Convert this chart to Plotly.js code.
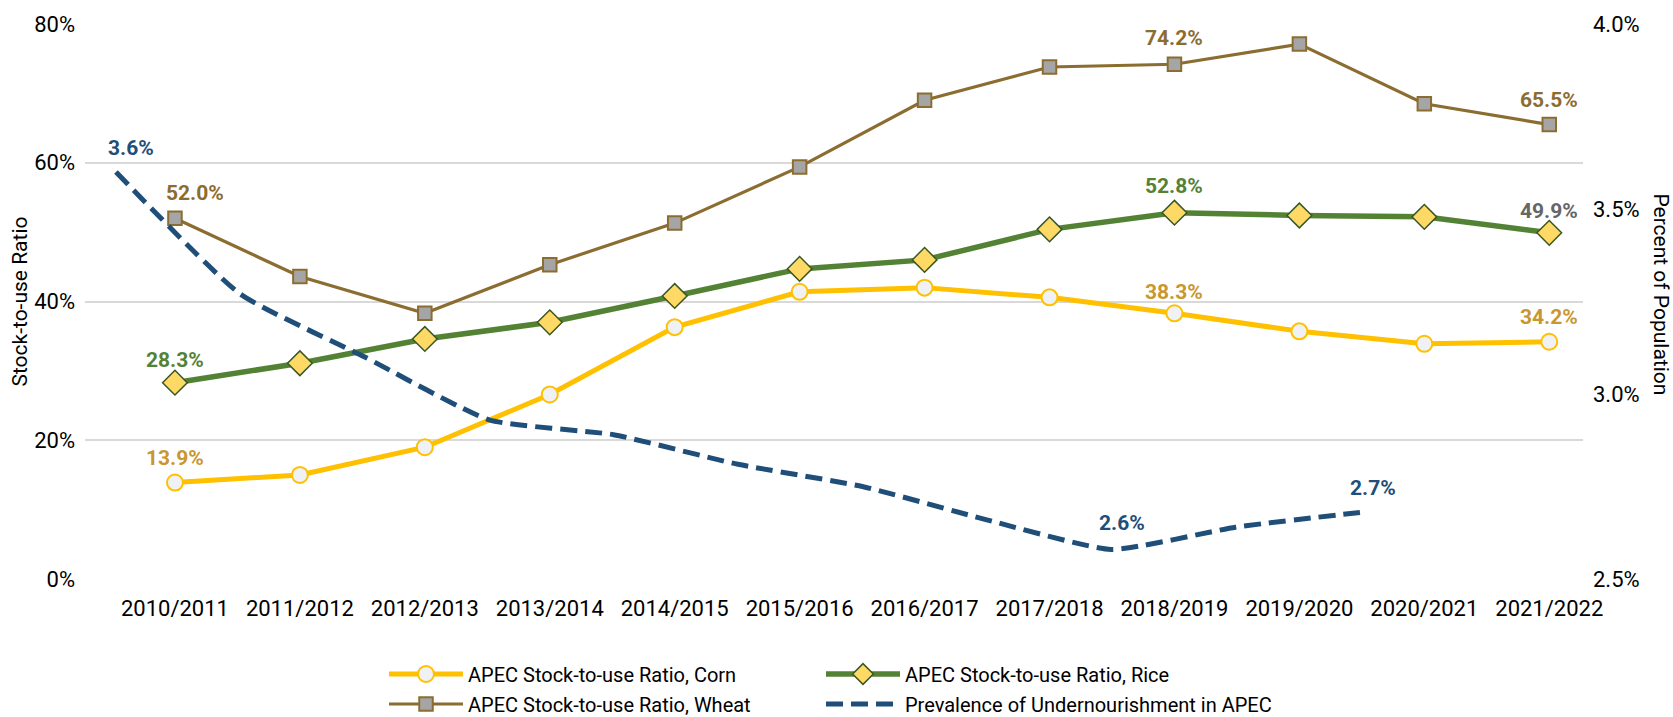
<!DOCTYPE html>
<html>
<head>
<meta charset="utf-8">
<script src="https://cdn.plot.ly/plotly-3.0.1.min.js"></script>
<style>
  html, body { margin: 0; padding: 0; background: #fff; }
  #chart { width: 1673px; height: 717px; }
</style>
</head>
<body>
<div id="chart"></div>
<script>
// ---- Data ----
const marketingYears = ['2010/2011','2011/2012','2012/2013','2013/2014','2014/2015','2015/2016',
                        '2016/2017','2017/2018','2018/2019','2019/2020','2020/2021','2021/2022'];
const cornRatio  = [13.9, 15.0, 19.0, 26.6, 36.3, 41.4, 42.0, 40.6, 38.3, 35.7, 33.9, 34.2];
const riceRatio  = [28.3, 31.1, 34.6, 37.0, 40.8, 44.7, 46.0, 50.4, 52.8, 52.4, 52.2, 49.9];
const wheatRatio = [52.0, 43.6, 38.3, 45.3, 51.3, 59.4, 69.0, 73.8, 74.2, 77.1, 68.5, 65.5];

const undernourishmentYears = [2010, 2011, 2012, 2013, 2014, 2015, 2016, 2017, 2018, 2019, 2020];
const undernourishmentPct   = [3.60, 3.27, 3.10, 2.93, 2.89, 2.81, 2.75, 2.66, 2.58, 2.64, 2.68];

// axis ticks
const leftTickVals  = [0, 20, 40, 60, 80];
const leftTickText  = ['0%', '20%', '40%', '60%', '80%'];
const rightTickVals = [2.5, 3.0, 3.5, 4.0];
const rightTickText = ['2.5%', '3.0%', '3.5%', '4.0%'];

// indices of points that carry a data label
const cornLabelIdx  = [0, 8, 11];
const riceLabelIdx  = [0, 8, 11];
const wheatLabelIdx = [0, 8, 11];
const undernourishmentLabelIdx = [0, 8, 10];

// ---- Styles ----
const FONT = 'Roboto, "Open Sans", Arial, sans-serif';
const cCorn = '#FFC000', cCornLbl = '#C9972F';
const cRice = '#548235', cRiceLbl = '#548235';
const cWheat = '#8C6D31', cWheatLbl = '#8C6D31';
const cUnder = '#1F4E79';

const traces = [
  {
    name: 'APEC Stock-to-use Ratio, Corn', legend: 'legend',
    x: marketingYears, y: cornRatio, type: 'scatter', mode: 'lines+markers',
    line: {color: cCorn, width: 5},
    marker: {symbol: 'circle', size: 16, color: '#EFF1F4', line: {color: cCorn, width: 2}},
    xaxis: 'x', yaxis: 'y'
  },
  {
    name: 'APEC Stock-to-use Ratio, Rice', legend: 'legend2',
    x: marketingYears, y: riceRatio, type: 'scatter', mode: 'lines+markers',
    line: {color: cRice, width: 5.5},
    marker: {symbol: 'diamond', size: 19, color: '#FFD966', line: {color: '#385723', width: 1.5}},
    xaxis: 'x', yaxis: 'y'
  },
  {
    name: 'APEC Stock-to-use Ratio, Wheat', legend: 'legend3',
    x: marketingYears, y: wheatRatio, type: 'scatter', mode: 'lines+markers',
    line: {color: cWheat, width: 3.2},
    marker: {symbol: 'square', size: 13.5, color: '#A5A5A5', line: {color: cWheat, width: 2}},
    xaxis: 'x', yaxis: 'y'
  },
  {
    name: 'Prevalence of Undernourishment in APEC', legend: 'legend4',
    x: undernourishmentYears, y: undernourishmentPct, type: 'scatter', mode: 'lines',
    line: {color: cUnder, width: 5, dash: '17px,8px', shape: 'spline', smoothing: 0.5},
    xaxis: 'x2', yaxis: 'y2'
  }
];

// ---- Data labels ----
const annotations = [];
function addLabels(xs, ys, idx, color, xref, yref, opts) {
  idx.forEach((i, k) => {
    const o = (opts && opts[k]) || {};
    annotations.push({
      x: xs[i], y: ys[i], xref: xref, yref: yref,
      text: ys[i].toFixed(1) + '%', showarrow: false,
      yshift: o.yshift !== undefined ? o.yshift : 25,
      xshift: o.xshift || 0,
      font: {family: FONT, size: 21, color: o.color || color, weight: 'bold'}
    });
  });
}
addLabels(marketingYears, cornRatio, cornLabelIdx, cCornLbl, 'x', 'y', [{}, {yshift: 21}, {}]);
addLabels(marketingYears, riceRatio, riceLabelIdx, cRiceLbl, 'x', 'y', [{yshift: 23}, {yshift: 27}, {color: '#666666', yshift: 22}]);
addLabels(marketingYears, wheatRatio, wheatLabelIdx, cWheatLbl, 'x', 'y', [{xshift: 20}, {yshift: 26}, {}]);
addLabels(undernourishmentYears, undernourishmentPct, undernourishmentLabelIdx, cUnder, 'x2', 'y2',
          [{xshift: 15, yshift: 24}, {xshift: 11, yshift: 26}, {xshift: 13, yshift: 24}]);

// axis titles
annotations.push({
  xref: 'paper', yref: 'paper', x: -0.044, y: 0.5, xanchor: 'center', yanchor: 'middle',
  text: 'Stock-to-use Ratio', textangle: -90, showarrow: false,
  font: {family: FONT, size: 21, color: '#000'}
});
annotations.push({
  xref: 'paper', yref: 'paper', x: 1.052, y: 0.513, xanchor: 'center', yanchor: 'middle',
  text: 'Percent of Population', textangle: 90, showarrow: false,
  font: {family: FONT, size: 21, color: '#000'}
});

function legendAt(xPx, yPx) {
  return {
    orientation: 'h', xref: 'paper', x: (xPx - 85) / 1498, xanchor: 'left',
    yref: 'container', y: (717 - yPx) / 717, yanchor: 'middle', itemwidth: 74,
    font: {family: FONT, size: 20, color: '#000'}, bgcolor: 'rgba(0,0,0,0)'
  };
}

const layout = {
  width: 1673, height: 717,
  margin: {l: 85, r: 90, t: 24, b: 138},
  paper_bgcolor: '#ffffff', plot_bgcolor: '#ffffff',
  font: {family: FONT, size: 20, color: '#000'},
  showlegend: true,
  legend:  legendAt(384, 674),
  legend2: legendAt(821, 674),
  legend3: legendAt(384, 704),
  legend4: legendAt(821, 704),
  xaxis: {
    type: 'category', range: [-0.72, 11.27], showgrid: false, zeroline: false,
    showline: false, ticks: '', tickfont: {family: FONT, size: 22, color: '#000'},
    ticklabelstandoff: 14, automargin: false
  },
  xaxis2: {
    type: 'linear', overlaying: 'x', range: [2009.751, 2021.793], visible: false,
    showgrid: false, zeroline: false
  },
  yaxis: {
    range: [0, 80], tickmode: 'array', tickvals: leftTickVals, ticktext: leftTickText,
    showgrid: true, gridcolor: '#D9D9D9', gridwidth: 2, zeroline: false, showline: false,
    ticks: '', tickfont: {family: FONT, size: 22, color: '#000'}, ticklabelstandoff: 9,
    automargin: false
  },
  yaxis2: {
    overlaying: 'y', side: 'right', range: [2.5, 4.0], tickmode: 'array',
    tickvals: rightTickVals, ticktext: rightTickText,
    showgrid: false, zeroline: false, showline: false,
    ticks: '', tickfont: {family: FONT, size: 22, color: '#000'}, ticklabelstandoff: 9,
    automargin: false
  },
  annotations: annotations
};

Plotly.newPlot('chart', traces, layout, {displayModeBar: false, staticPlot: true});
</script>
</body>
</html>
